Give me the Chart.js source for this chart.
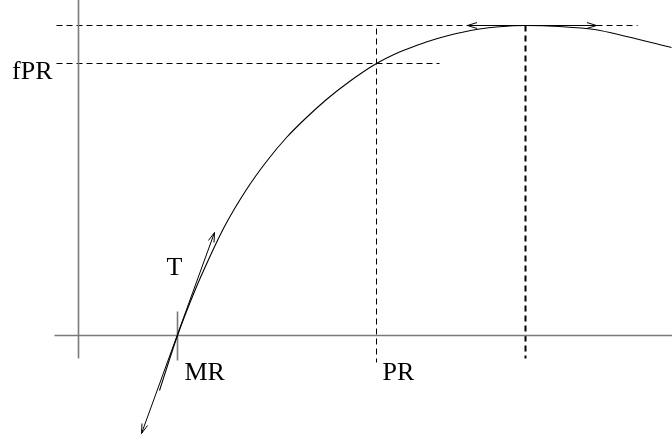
<!DOCTYPE html>
<html lang="en">
<head>
    <meta charset="UTF-8">
    <title>fPR curve</title>
    <script src="https://cdn.jsdelivr.net/npm/chart.js@4.4.1/dist/chart.umd.min.js"></script>
    <style>
        html, body {
            margin: 0;
            padding: 0;
            background: #ffffff;
        }
        #wrap {
            width: 672px;
            height: 438px;
        }
    </style>
</head>
<body>
    <div id="wrap">
        <canvas id="diagram" width="672" height="438"></canvas>
    </div>

    <script>
        // Curve (origin at the axis crossing)
        const curveX = [0.81, 0.99, 1.16, 1.31, 1.46, 1.68, 1.88, 2.08, 2.28, 2.48, 2.71, 2.98, 3.21, 3.34, 3.51, 3.68, 4.01, 4.21, 4.47, 4.81, 5.16, 5.48, 5.93];
        const curveY = [-0.55, 0, 0.44, 0.78, 1.09, 1.46, 1.74, 1.98, 2.18, 2.36, 2.54, 2.72, 2.835, 2.885, 2.945, 2.995, 3.065, 3.088, 3.10, 3.09, 3.06, 2.99, 2.88];

        // Marked values
        const MR = 0.99;
        const PR = 2.98;
        const fPR = 2.72;
        const peakX = 4.47;
        const peakY = 3.10;

        // Tangent lines
        const tangentX = [0.63, 1.36];
        const tangentY = [-0.98, 1.03];
        const peakTangentX = [3.89, 5.18];

        // Labels
        const labelText = ['fPR', 'T', 'MR', 'PR'];

        // View window (shifted half a pixel so 1px lines sit on whole pixels)
        const xMin = -0.785, xMax = 5.935;
        const yMin = -1.025, yMax = 3.355;

        const pts = (xs, ys) => xs.map((x, i) => ({ x: x, y: ys[i] }));

        const axisGray = '#7a7a7a';
        const dash = [6, 4];

        const seg = (data, color, width, extra) => Object.assign({
            data: data,
            showLine: true,
            borderColor: color,
            borderWidth: width,
            pointRadius: 0,
            tension: 0
        }, extra || {});

        const datasets = [
            seg(pts(curveX, curveY), '#000', 1.1, { cubicInterpolationMode: 'monotone' }),
            seg(pts(tangentX, tangentY), '#000', 1, { arrows: true }),
            seg(pts(peakTangentX, [peakY, peakY]), '#000', 1, { arrows: true }),
            // axes
            seg([{ x: -0.24, y: 0 }, { x: xMax, y: 0 }], axisGray, 1.6),
            seg([{ x: 0, y: yMax }, { x: 0, y: -0.23 }], axisGray, 1.6),
            seg([{ x: MR, y: 0.24 }, { x: MR, y: -0.25 }], axisGray, 1.6),
            // guides
            seg([{ x: -0.22, y: peakY }, { x: 5.59, y: peakY }], '#000', 1, { borderDash: dash }),
            seg([{ x: -0.22, y: fPR }, { x: 3.61, y: fPR }], '#000', 1, { borderDash: dash }),
            seg([{ x: PR, y: 3.07 }, { x: PR, y: -0.27 }], '#000', 1, { borderDash: dash }),
            seg([{ x: peakX, y: peakY }, { x: peakX, y: -0.23 }], '#000', 2, { borderDash: [6, 4] })
        ];

        // open V arrowheads at both ends of flagged lines
        const arrowPlugin = {
            id: 'arrows',
            afterDatasetsDraw(chart) {
                const ctx = chart.ctx;
                chart.data.datasets.forEach((ds, i) => {
                    if (!ds.arrows) return;
                    const els = chart.getDatasetMeta(i).data;
                    const a = els[0], b = els[els.length - 1];
                    const head = (tip, from) => {
                        const ang = Math.atan2(tip.y - from.y, tip.x - from.x);
                        const len = 10, spread = 0.3;
                        ctx.beginPath();
                        ctx.moveTo(tip.x - len * Math.cos(ang - spread), tip.y - len * Math.sin(ang - spread));
                        ctx.lineTo(tip.x, tip.y);
                        ctx.lineTo(tip.x - len * Math.cos(ang + spread), tip.y - len * Math.sin(ang + spread));
                        ctx.stroke();
                    };
                    ctx.save();
                    ctx.strokeStyle = '#000';
                    ctx.lineWidth = 1;
                    head(b, a);
                    head(a, b);
                    ctx.restore();
                });
            }
        };

        // text labels placed next to the values they name
        const labelPlugin = {
            id: 'labels',
            afterDatasetsDraw(chart) {
                const ctx = chart.ctx;
                const sx = chart.scales.x, sy = chart.scales.y;
                const spots = [
                    { x: -0.24, y: fPR, dx: -2, dy: 15, align: 'right' },
                    { x: MR, y: 0, dx: -11, dy: -61, align: 'left' },
                    { x: MR, y: 0, dx: 7, dy: 44, align: 'left' },
                    { x: PR, y: 0, dx: 6, dy: 44, align: 'left' }
                ];
                ctx.save();
                ctx.fillStyle = '#000';
                ctx.font = '26px "Liberation Serif", "DejaVu Serif", serif';
                ctx.textBaseline = 'alphabetic';
                spots.forEach((s, i) => {
                    ctx.textAlign = s.align;
                    ctx.fillText(labelText[i], sx.getPixelForValue(s.x) + s.dx, sy.getPixelForValue(s.y) + s.dy);
                });
                ctx.restore();
            }
        };

        new Chart(document.getElementById('diagram').getContext('2d'), {
            type: 'scatter',
            data: { datasets: datasets },
            options: {
                responsive: false,
                animation: false,
                layout: { padding: 0 },
                plugins: {
                    legend: { display: false },
                    tooltip: { enabled: false }
                },
                scales: {
                    x: { type: 'linear', min: xMin, max: xMax, display: false },
                    y: { type: 'linear', min: yMin, max: yMax, display: false }
                }
            },
            plugins: [arrowPlugin, labelPlugin]
        });
    </script>
</body>
</html>
